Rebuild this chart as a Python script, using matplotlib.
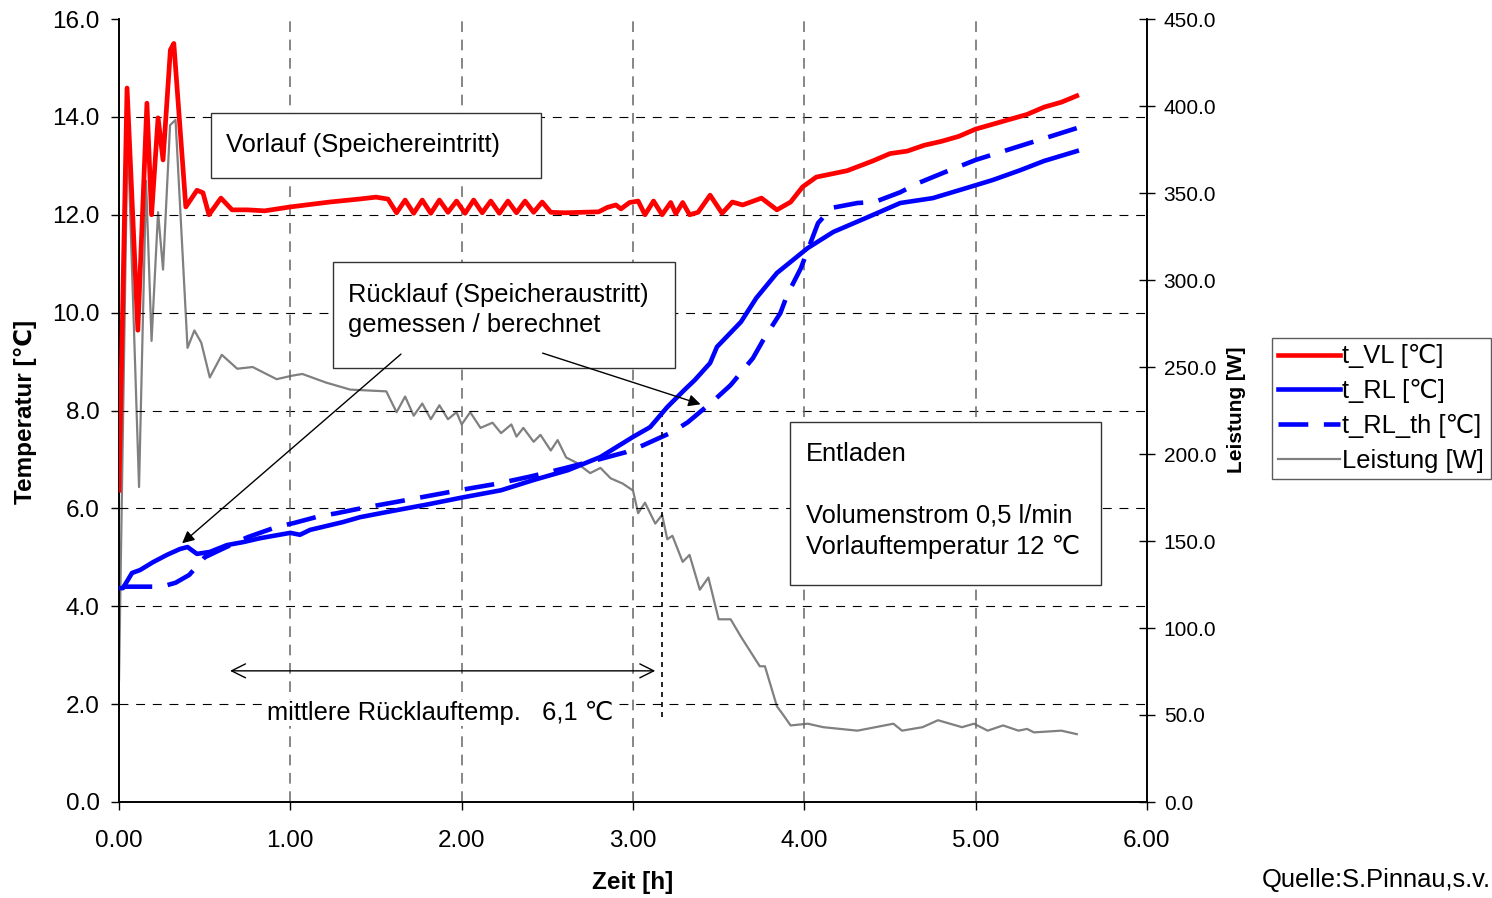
import numpy as np
import matplotlib
matplotlib.use("Agg")
import matplotlib.pyplot as plt
from matplotlib.lines import Line2D
from matplotlib.patches import Rectangle

plt.rcParams['font.family'] = ['Liberation Sans', 'DejaVu Sans']

# --- data ---
t_vl = [0.0, 0.047, 0.11, 0.163, 0.19, 0.228, 0.257, 0.30, 0.32, 0.39, 0.455, 0.49, 0.525, 0.595, 0.66,
        0.75, 0.85, 1.0, 1.23, 1.4, 1.5, 1.57, 1.62, 1.67, 1.72, 1.77, 1.82, 1.87, 1.92, 1.97, 2.02, 2.07,
        2.12, 2.17, 2.22, 2.27, 2.32, 2.37, 2.42, 2.47, 2.52, 2.6, 2.7, 2.8, 2.85, 2.9, 2.93, 2.98, 3.03,
        3.07, 3.12, 3.17, 3.22, 3.25, 3.29, 3.33, 3.38, 3.45, 3.52, 3.58, 3.64, 3.75, 3.84, 3.92, 3.99,
        4.07, 4.25, 4.4, 4.5, 4.6, 4.7, 4.8, 4.9, 5.0, 5.1, 5.2, 5.3, 5.4, 5.5, 5.59]
T_vl = [6.37, 14.59, 9.64, 14.28, 12.0, 13.98, 13.12, 15.37, 15.5, 12.16, 12.5, 12.45, 12.0, 12.34, 12.1,
        12.1, 12.08, 12.16, 12.26, 12.32, 12.36, 12.32, 12.04, 12.3, 12.03, 12.3, 12.03, 12.3, 12.05, 12.28,
        12.03, 12.3, 12.04, 12.28, 12.03, 12.28, 12.04, 12.28, 12.05, 12.26, 12.05, 12.04, 12.05, 12.06,
        12.15, 12.2, 12.12, 12.25, 12.28, 12.0, 12.28, 12.0, 12.25, 12.02, 12.25, 12.0, 12.05, 12.4, 12.03,
        12.26, 12.2, 12.34, 12.1, 12.26, 12.57, 12.77, 12.9, 13.1, 13.25, 13.3, 13.42, 13.5, 13.6, 13.75,
        13.85, 13.95, 14.05, 14.2, 14.3, 14.43]

t_rl = [0.012, 0.023, 0.076, 0.123, 0.198, 0.28, 0.356, 0.40, 0.455, 0.53, 0.63, 0.724, 0.823, 1.0, 1.056,
        1.115, 1.307, 1.407, 1.6, 1.8, 2.0, 2.23, 2.42, 2.62, 2.81, 3.0, 3.1, 3.2, 3.3, 3.36, 3.45, 3.49,
        3.63, 3.72, 3.84, 4.02, 4.17, 4.37, 4.56, 4.75, 4.95, 5.1, 5.26, 5.4, 5.59]
T_rl = [4.37, 4.37, 4.68, 4.74, 4.9, 5.05, 5.17, 5.21, 5.07, 5.11, 5.25, 5.31, 5.39, 5.5, 5.46,
        5.56, 5.72, 5.82, 5.95, 6.08, 6.22, 6.37, 6.58, 6.78, 7.05, 7.46, 7.66, 8.07, 8.42, 8.62, 8.97, 9.3,
        9.81, 10.3, 10.81, 11.32, 11.65, 11.95, 12.24, 12.34, 12.55, 12.71, 12.91, 13.1, 13.3]

t_rl_th = [0.02, 0.25, 0.33, 0.41, 0.5, 0.59, 0.75, 0.92, 1.02, 1.17, 1.27, 1.41, 1.6, 1.8, 2.0, 2.2, 2.4,
           2.6, 2.8, 2.96, 3.06, 3.23, 3.32, 3.47, 3.57, 3.7, 3.76, 3.86, 3.9, 3.98, 4.08, 4.16, 4.31,
           4.41, 4.56, 4.66, 4.82, 5.0, 5.3, 5.59]
T_rl_th = [4.4, 4.4, 4.48, 4.64, 5.0, 5.15, 5.41, 5.62, 5.7, 5.84, 5.9, 6.0, 6.12, 6.25, 6.38, 6.5, 6.65,
           6.82, 7.0, 7.15, 7.29, 7.56, 7.76, 8.2, 8.52, 9.07, 9.44, 9.99, 10.36, 10.91, 11.83, 12.14, 12.24,
           12.26, 12.46, 12.64, 12.87, 13.12, 13.45, 13.77]

t_p = [0.0, 0.05, 0.117, 0.158, 0.19, 0.228, 0.257, 0.298, 0.33, 0.40, 0.44, 0.48, 0.53, 0.6, 0.69, 0.78,
       0.92, 1.01, 1.07, 1.21, 1.35, 1.56, 1.62, 1.67, 1.72, 1.77, 1.82, 1.87, 1.92, 1.97, 2.0, 2.05, 2.11,
       2.18, 2.23, 2.29, 2.32, 2.36, 2.42, 2.46, 2.52, 2.56, 2.61, 2.67, 2.75, 2.81, 2.87, 2.94, 3.0, 3.03,
       3.07, 3.13, 3.17, 3.2, 3.23, 3.29, 3.33, 3.39, 3.44, 3.5, 3.57, 3.63, 3.74, 3.77, 3.84, 3.87, 3.92,
       4.02, 4.11, 4.31, 4.52, 4.57, 4.69, 4.78, 4.92, 4.99, 5.07, 5.16, 5.25, 5.3, 5.34, 5.5, 5.59]
P = [70, 386, 181, 357, 265, 339, 306, 389, 392, 261, 271, 264, 244, 257, 249, 250,
     243, 245, 246, 241, 237, 236, 224, 233, 222, 229, 220, 228, 220, 224, 217, 224, 215,
     218, 212, 217, 210, 215, 207, 211, 202, 208, 198, 195, 189, 192, 186, 183, 179, 166,
     172, 160, 165, 151, 153, 138, 142, 122, 129, 105, 105, 95, 78, 78, 55, 51, 44,
     45, 43, 41, 45, 41, 43, 47, 43, 45, 41, 44, 41, 42, 40, 41, 39]

x_ticks = [0, 1, 2, 3, 4, 5, 6]
y_ticks = [0, 2, 4, 6, 8, 10, 12, 14, 16]
p_ticks = [0, 50, 100, 150, 200, 250, 300, 350, 400, 450]

fig = plt.figure(figsize=(14.92, 8.98), dpi=100)
ax = fig.add_axes([119/1492, 96/898, 1028/1492, 783/898])
ax2 = ax.twinx()
ax.set_zorder(2)
ax.patch.set_visible(False)

ax.set_xlim(0, 6)
ax.set_ylim(0, 16)
ax2.set_ylim(0, 450)
ax.set_xticks(x_ticks)
ax.set_yticks(y_ticks)
ax2.set_yticks(p_ticks)
ax.set_xticklabels(['%.2f' % v for v in x_ticks], fontsize=17.5)
ax.set_yticklabels(['%.1f' % v for v in y_ticks], fontsize=17.5)
ax2.set_yticklabels(['%.1f' % v for v in p_ticks], fontsize=15)
ax.tick_params(axis='x', direction='out', length=6, width=1, pad=14)
ax.tick_params(axis='y', direction='out', length=6, width=1, pad=8)
ax2.tick_params(axis='y', direction='inout', length=12, width=1, pad=6)

for a in (ax, ax2):
    a.spines['top'].set_visible(False)
    for s in a.spines.values():
        s.set_linewidth(1.2)

# grid
for y in y_ticks[1:-1]:
    ax.axhline(y, color='k', lw=0.8, ls=(0, (8, 7)), zorder=0)
for x in x_ticks[1:-1]:
    ax.axvline(x, color='0.4', lw=1.1, ls=(0, (7, 5)), zorder=0)

ax2.plot(t_p, P, color='#808080', lw=1.6)
ax.plot(t_rl_th, T_rl_th, color='#0000ff', lw=3.3, dashes=(6.5, 3.4), zorder=3)
ax.plot(t_rl, T_rl, color='#0000ff', lw=3.3, zorder=4, solid_joinstyle='round')
ax.plot(t_vl, T_vl, color='#ff0000', lw=3.4, zorder=5, solid_joinstyle='round')

# annotation boxes
fs = 18.4
box_kw = dict(facecolor='white', edgecolor='0.2', lw=1, zorder=6)
ax.add_patch(Rectangle((0.537, 12.75), 1.926, 1.33, **box_kw))
ax.text(0.625, 13.43, 'Vorlauf (Speichereintritt)', fontsize=fs, va='center', zorder=7)
ax.add_patch(Rectangle((1.249, 8.87), 1.996, 2.16, **box_kw))
ax.text(1.337, 10.36, 'Rücklauf (Speicheraustritt)', fontsize=fs, va='center', zorder=7)
ax.text(1.337, 9.75, 'gemessen / berechnet', fontsize=fs, va='center', zorder=7)
ax.add_patch(Rectangle((3.916, 4.43), 1.816, 3.33, **box_kw))
ax.text(4.01, 7.11, 'Entladen', fontsize=fs, va='center', zorder=7)
ax.text(4.01, 5.86, 'Volumenstrom 0,5 l/min', fontsize=fs, va='center', zorder=7)
ax.text(4.01, 5.21, 'Vorlauftemperatur 12 \u2103', fontsize=fs, va='center', zorder=7)

ax.annotate('', xy=(0.356, 5.25), xytext=(1.658, 9.19),
            arrowprops=dict(arrowstyle='-|>', color='k', lw=1, mutation_scale=18), zorder=7)
ax.annotate('', xy=(3.41, 8.11), xytext=(2.457, 9.19),
            arrowprops=dict(arrowstyle='-|>', color='k', lw=1, mutation_scale=18), zorder=7)
ax.annotate('', xy=(0.648, 2.68), xytext=(3.13, 2.68),
            arrowprops=dict(arrowstyle='<->', color='k', lw=1, mutation_scale=25,
                            shrinkA=0, shrinkB=0), zorder=7)
ax.plot([3.17, 3.17], [1.74, 7.9], color='k', lw=1.2, ls=(0, (3, 3)), zorder=3)
ax.text(1.875, 1.82, 'mittlere Rücklauftemp.   6,1 \u2103', fontsize=fs, ha='center', va='center',
        zorder=7, bbox=dict(facecolor='white', edgecolor='none', pad=1))

# axis labels
fig.text(25/1492, 0.541, 'Temperatur [\u2103]', rotation=90, fontsize=17.5, fontweight='bold',
         ha='center', va='center')
fig.text(1237/1492, 0.5434, 'Leistung [W]', rotation=90, fontsize=15, fontweight='bold',
         ha='center', va='center')
fig.text(633/1492, 0.0178, 'Zeit [h]', fontsize=17.5, fontweight='bold', ha='center', va='center')
fig.text(1491/1492, 0.02, 'Quelle:S.Pinnau,s.v.', fontsize=fs, ha='right', va='center')

handles = [Line2D([], [], color='#ff0000', lw=3.3),
           Line2D([], [], color='#0000ff', lw=3.3),
           Line2D([], [], color='#0000ff', lw=3.3, dashes=(6.5, 3.4)),
           Line2D([], [], color='#808080', lw=1.6)]
labels = ['t_VL [\u2103]', 't_RL [\u2103]', 't_RL_th [\u2103]', 'Leistung [W]']
leg = fig.legend(handles, labels, loc='upper left', bbox_to_anchor=(1272/1492, 1 - 338/898),
                 fontsize=fs, frameon=True, fancybox=False, edgecolor='0.2', borderpad=0.25,
                 handlelength=2.4, handletextpad=0.1, labelspacing=0.42, borderaxespad=0)
leg.get_frame().set_linewidth(1)

fig.savefig('out.png', dpi=100)
